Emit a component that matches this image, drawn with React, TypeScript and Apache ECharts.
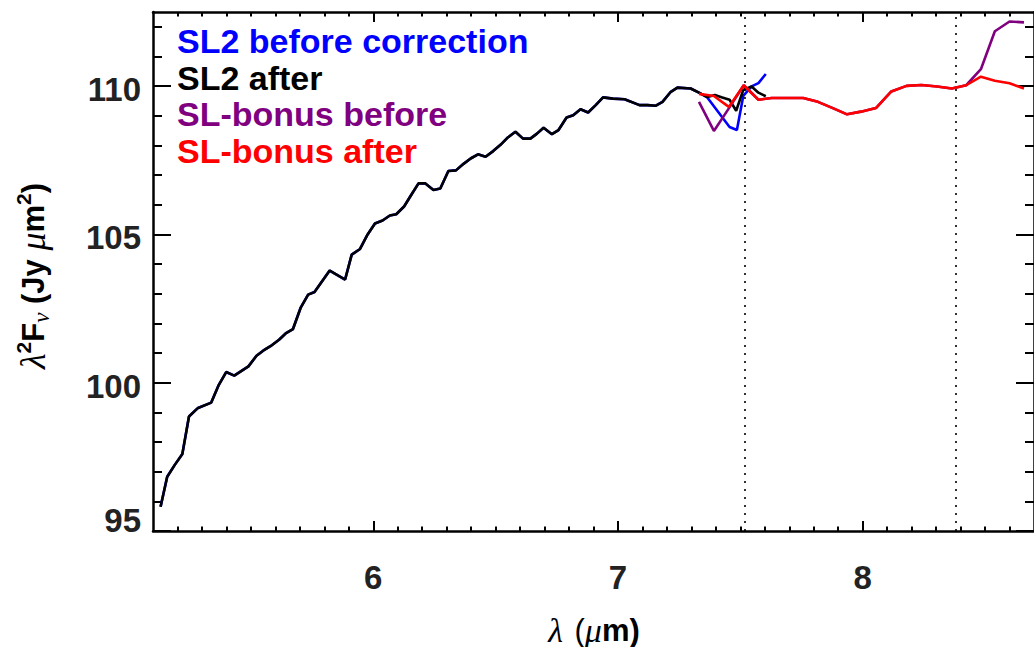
import React, { useEffect, useRef } from 'react';
import * as echarts from 'echarts';

const seriesNames = ['SL2 before correction', 'SL2 after', 'SL-bonus before', 'SL-bonus after'];
const seriesColors = ['#0000ff', '#000000', '#800080', '#ff0000'];

const xMajorTicks = [6, 7, 8];
const yMajorTicks = [95, 100, 105, 110];
const dividerX = [7.524, 8.383];

// SL2 spectrum shared by "before" and "after" (identical below 7.33 um)
const sharedX = [5.131, 5.158, 5.189, 5.220, 5.247, 5.284, 5.338, 5.369, 5.399, 5.432, 5.490, 5.523, 5.550, 5.580, 5.615, 5.642, 5.672, 5.703, 5.734, 5.760, 5.822, 5.885, 5.912, 5.946, 5.977, 6.007, 6.038, 6.068, 6.094, 6.126, 6.155, 6.185, 6.213, 6.246, 6.274, 6.307, 6.338, 6.369, 6.398, 6.428, 6.459, 6.490, 6.520, 6.550, 6.581, 6.612, 6.642, 6.669, 6.696, 6.730, 6.757, 6.790, 6.817, 6.847, 6.878, 6.909, 6.939, 6.979, 7.027, 7.088, 7.121, 7.155, 7.182, 7.216, 7.243, 7.297, 7.331];
const sharedY = [95.82, 96.83, 97.23, 97.60, 98.86, 99.15, 99.33, 99.93, 100.36, 100.24, 100.55, 100.91, 101.08, 101.23, 101.45, 101.66, 101.81, 102.52, 102.97, 103.06, 103.78, 103.48, 104.32, 104.51, 105.00, 105.37, 105.47, 105.64, 105.68, 105.94, 106.33, 106.72, 106.72, 106.50, 106.55, 107.14, 107.16, 107.38, 107.56, 107.70, 107.62, 107.81, 108.02, 108.27, 108.46, 108.23, 108.23, 108.40, 108.60, 108.38, 108.52, 108.94, 109.02, 109.22, 109.11, 109.36, 109.62, 109.58, 109.56, 109.36, 109.36, 109.34, 109.47, 109.81, 109.95, 109.92, 109.78];

const sl2BeforeTailX = [7.365, 7.456, 7.486, 7.512, 7.546, 7.574, 7.604];
const sl2BeforeTailY = [109.62, 108.62, 108.52, 109.67, 109.99, 110.10, 110.41];
const sl2AfterTailX = [7.365, 7.396, 7.426, 7.456, 7.483, 7.512, 7.546, 7.574, 7.604];
const sl2AfterTailY = [109.63, 109.70, 109.62, 109.54, 109.17, 109.87, 109.99, 109.78, 109.66];

const bonusX = [7.331, 7.392, 7.453, 7.514, 7.574, 7.628, 7.696, 7.757, 7.817, 7.878, 7.936, 7.993, 8.054, 8.117, 8.179, 8.240, 8.304, 8.364, 8.423, 8.483, 8.540, 8.600, 8.659];
const bonusBeforeY = [109.47, 108.49, 109.25, 110.03, 109.54, 109.60, 109.60, 109.60, 109.47, 109.26, 109.05, 109.14, 109.26, 109.82, 110.01, 110.04, 109.99, 109.92, 110.03, 110.57, 111.85, 112.18, 112.15];
const bonusAfterY = [109.74, 109.67, 109.30, 110.03, 109.54, 109.60, 109.60, 109.60, 109.47, 109.26, 109.05, 109.14, 109.26, 109.82, 110.01, 110.04, 109.99, 109.92, 110.03, 110.32, 110.18, 110.10, 109.92];

const X_MIN = 5.1, X_MAX = 8.7, Y_MIN = 95, Y_MAX = 112.5;

const xMinorTicks: number[] = [];
for (let i = 52; i <= 86; i++) if (i % 10 !== 0) xMinorTicks.push(i / 10);
const yMinorTicks: number[] = [];
for (let v = 96; v <= 112; v++) if (v % 5 !== 0) yMinorTicks.push(v);

const zip = (xs: number[], ys: number[]) => xs.map((x, i) => [x, ys[i]]);

const FONT = 'Liberation Sans';
const LABEL_COLOR = '#222';

function makeX(position: 'bottom' | 'top', major: boolean) {
  return {
    type: 'value', position, min: X_MIN, max: X_MAX,
    axisLine: { show: major, onZero: false, lineStyle: { color: '#000', width: 2.5 } },
    axisTick: { show: true, inside: true, length: major ? 10 : 4.5, customValues: major ? xMajorTicks : xMinorTicks, lineStyle: { color: '#000', width: 2 } },
    axisLabel: position === 'bottom' && major
      ? { show: true, customValues: xMajorTicks, margin: 30, fontSize: 33, fontWeight: 'bold', fontFamily: FONT, color: LABEL_COLOR }
      : { show: false },
    splitLine: { show: false },
  };
}
function makeY(position: 'left' | 'right', major: boolean) {
  return {
    type: 'value', position, min: Y_MIN, max: Y_MAX,
    axisLine: { show: major, onZero: false, lineStyle: { color: '#000', width: 2.5 } },
    axisTick: { show: true, inside: true, length: major ? 18 : 9, customValues: major ? yMajorTicks : yMinorTicks, lineStyle: { color: '#000', width: 2 } },
    axisLabel: position === 'left' && major
      ? {
          show: true, customValues: yMajorTicks, margin: 12,
          formatter: (v: number) => (v === Y_MIN ? `{b|${v}}` : `{a|${v}}`),
          rich: {
            a: { fontSize: 33, fontWeight: 'bold', fontFamily: FONT, color: LABEL_COLOR, padding: [7, 0, 0, 0] },
            b: { fontSize: 33, fontWeight: 'bold', fontFamily: FONT, color: LABEL_COLOR, padding: [0, 0, 22, 0] },
          },
        }
      : { show: false },
    splitLine: { show: false },
  };
}

const seriesData = [
  zip(sharedX, sharedY).concat(zip(sl2BeforeTailX, sl2BeforeTailY)),
  zip(sharedX, sharedY).concat(zip(sl2AfterTailX, sl2AfterTailY)),
  zip(bonusX, bonusBeforeY),
  zip(bonusX, bonusAfterY),
];

const greekX = { fontFamily: 'Liberation Serif', fontStyle: 'italic', fontSize: 34, color: '#333', lineHeight: 30 };
const boldX = { fontFamily: FONT, fontWeight: 'bold', fontSize: 31, color: '#333', lineHeight: 30 };

const option: any = {
  animation: false,
  backgroundColor: '#ffffff',
  grid: { left: 153, top: 12, width: 888, height: 519, containLabel: false },
  xAxis: [makeX('bottom', true), makeX('bottom', false), makeX('top', true), makeX('top', false)],
  yAxis: [makeY('left', true), makeY('left', false), makeY('right', true), makeY('right', false)],
  legend: {
    orient: 'vertical', left: 172, top: 24, padding: 0, itemGap: 2.5,
    itemWidth: 0, itemHeight: 0, icon: 'rect', selectedMode: false,
    textStyle: { fontSize: 34, fontWeight: 'bold', fontFamily: FONT },
    data: seriesNames.map((n, i) => ({ name: n, textStyle: { color: seriesColors[i] } })),
  },
  series: seriesNames.map((n, i) => ({
    name: n, type: 'line', xAxisIndex: 0, yAxisIndex: 0,
    data: seriesData[i], showSymbol: false, symbol: 'none',
    lineStyle: { color: seriesColors[i], width: 2.6 },
    itemStyle: { color: seriesColors[i] },
    clip: true, z: 2 + i,
    markLine: i === 3 ? {
      silent: true, symbol: ['none', 'none'], label: { show: false },
      lineStyle: { type: [2, 6], color: '#000', width: 1.6 },
      data: dividerX.map((x) => ({ xAxis: x })),
    } : undefined,
  })),
  graphic: [
    {
      type: 'text', x: 594, y: 630,
      style: {
        text: '{g|λ}{n| (}{g|μ}{b|m)}', align: 'center', verticalAlign: 'middle',
        rich: { g: greekX, n: { fontFamily: FONT, fontSize: 31, color: '#444', lineHeight: 30, padding: [0, 0, 0, 3] }, b: boldX },
      },
    },
    {
      type: 'text', x: 33, y: 276, rotation: Math.PI / 2,
      style: {
        text: '{g|λ}{sup|2}{b|F}{sub|ν}{b| (Jy }{g|μ}{b|m}{sup|2}{b|)}', align: 'center', verticalAlign: 'middle',
        rich: {
          g: { fontFamily: 'Liberation Serif', fontStyle: 'italic', fontSize: 36, color: '#333', lineHeight: 40 },
          b: { fontFamily: FONT, fontWeight: 'bold', fontSize: 31, color: '#333', lineHeight: 40 },
          sup: { fontFamily: FONT, fontWeight: 'bold', fontSize: 21, color: '#333', lineHeight: 26, verticalAlign: 'top' },
          sub: { fontFamily: 'Liberation Serif', fontStyle: 'italic', fontSize: 23, color: '#333', lineHeight: 26, verticalAlign: 'bottom' },
        },
      },
    },
  ],
};

export default function App() {
  const ref = useRef<HTMLDivElement>(null);
  useEffect(() => {
    const chart = echarts.init(ref.current!, null, { renderer: 'svg' });
    chart.setOption(option);
    return () => chart.dispose();
  }, []);
  return <div ref={ref} style={{ position: 'fixed', left: 0, top: 0, width: 1034, height: 647 }} />;
}
